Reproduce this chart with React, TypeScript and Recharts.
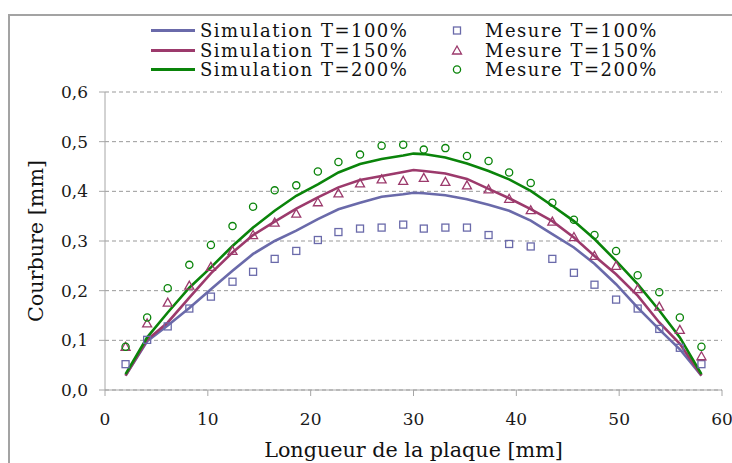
import React from "react";
import {
  CartesianGrid,
  ComposedChart,
  Legend,
  Line,
  Scatter,
  XAxis,
  YAxis,
} from "recharts";

const FONT = "'DejaVu Serif', serif";

const BLUE = "#6a6aaa";
const RED = "#9c3a6c";
const GREEN = "#0a840a";

// positions le long de la plaque [mm]
const mesureX = [
  2.0, 4.1, 6.1, 8.2, 10.3, 12.4, 14.4, 16.5, 18.6, 20.7, 22.7, 24.8, 26.9, 29.0,
  31.0, 33.1, 35.2, 37.3, 39.3, 41.4, 43.5, 45.6, 47.6, 49.7, 51.8, 53.9, 55.9, 58.0,
];
const mesure100 = [
  0.052, 0.101, 0.128, 0.164, 0.188, 0.218, 0.238, 0.264, 0.28, 0.302, 0.318, 0.325, 0.327, 0.333,
  0.325, 0.327, 0.327, 0.312, 0.294, 0.289, 0.264, 0.236, 0.212, 0.182, 0.164, 0.123, 0.085, 0.052,
];
const mesure150 = [
  0.087, 0.134, 0.176, 0.21, 0.248, 0.28, 0.312, 0.337, 0.355, 0.378, 0.396, 0.416, 0.424, 0.421,
  0.427, 0.419, 0.412, 0.404, 0.385, 0.362, 0.339, 0.308, 0.27, 0.25, 0.203, 0.168, 0.121, 0.068,
];
const mesure200 = [
  0.087, 0.146, 0.205, 0.252, 0.292, 0.33, 0.369, 0.402, 0.412, 0.44, 0.459, 0.474, 0.492, 0.494,
  0.484, 0.487, 0.471, 0.461, 0.438, 0.417, 0.377, 0.343, 0.312, 0.28, 0.231, 0.197, 0.146, 0.087,
];

const simX = [
  2.0, 4.1, 6.1, 8.2, 10.3, 12.4, 14.4, 16.5, 18.6, 20.7, 22.7, 24.8, 26.9, 29.0, 30.0,
  31.0, 33.1, 35.2, 37.3, 39.3, 41.4, 43.5, 45.6, 47.6, 49.7, 51.8, 53.9, 55.9, 58.0,
];
const sim100 = [
  0.029, 0.098, 0.13, 0.165, 0.203, 0.24, 0.274, 0.3, 0.321, 0.344, 0.364, 0.377, 0.389, 0.394, 0.397,
  0.396, 0.392, 0.384, 0.373, 0.361, 0.341, 0.314, 0.287, 0.254, 0.213, 0.166, 0.122, 0.082, 0.029,
];
const sim150 = [
  0.029, 0.101, 0.136, 0.186, 0.235, 0.277, 0.312, 0.339, 0.365, 0.388, 0.408, 0.423, 0.431, 0.439, 0.443,
  0.441, 0.436, 0.425, 0.405, 0.386, 0.364, 0.34, 0.307, 0.27, 0.233, 0.19, 0.136, 0.093, 0.029,
];
const sim200 = [
  0.032, 0.106, 0.156, 0.206, 0.247, 0.29, 0.327, 0.361, 0.391, 0.414, 0.438, 0.455, 0.465, 0.472, 0.476,
  0.475, 0.468, 0.456, 0.441, 0.424, 0.401, 0.371, 0.34, 0.304, 0.26, 0.213, 0.16, 0.106, 0.032,
];

const xTicks = [0, 10, 20, 30, 40, 50, 60];
const yTicks = [0, 0.1, 0.2, 0.3, 0.4, 0.5, 0.6];

const toPoints = (xs: number[], ys: number[]) => xs.map((x, i) => ({ x, y: ys[i] }));

const Square = (props: any) => (
  <rect x={props.cx - 3.5} y={props.cy - 3.5} width={7} height={7} fill="none" stroke={BLUE} strokeWidth={1.3} />
);
const Triangle = (props: any) => (
  <path
    d={`M${props.cx},${props.cy - 4.5} L${props.cx + 4.5},${props.cy + 3.5} L${props.cx - 4.5},${props.cy + 3.5} Z`}
    fill="none"
    stroke={RED}
    strokeWidth={1.3}
  />
);
const Circle = (props: any) => (
  <circle cx={props.cx} cy={props.cy} r={3.6} fill="none" stroke={GREEN} strokeWidth={1.3} />
);

const simLegend = [
  { label: "Simulation T=100%", color: BLUE },
  { label: "Simulation T=150%", color: RED },
  { label: "Simulation T=200%", color: GREEN },
];
const mesureLegend = [
  { label: "Mesure T=100%", Shape: Square },
  { label: "Mesure T=150%", Shape: Triangle },
  { label: "Mesure T=200%", Shape: Circle },
];

const LEGEND_FONT = 18;
const LEGEND_SPACING = 1.5;
const TITLE_FONT = 20.7;

function ChartLegend() {
  const rows = [30.5, 50.5, 69.5];
  return (
    <svg width={732} height={90} style={{ display: "block" }}>
      {simLegend.map((s, i) => (
        <g key={s.label}>
          <line x1={151} x2={195} y1={rows[i]} y2={rows[i]} stroke={s.color} strokeWidth={3} />
          <text
            x={200}
            y={rows[i]}
            dy="0.36em"
            fontFamily={FONT}
            fontSize={LEGEND_FONT}
            letterSpacing={LEGEND_SPACING}
            fill="#111"
          >
            {s.label}
          </text>
        </g>
      ))}
      {mesureLegend.map((m, i) => (
        <g key={m.label}>
          <m.Shape cx={457} cy={rows[i]} />
          <text
            x={485}
            y={rows[i]}
            dy="0.36em"
            fontFamily={FONT}
            fontSize={LEGEND_FONT}
            letterSpacing={LEGEND_SPACING}
            fill="#111"
          >
            {m.label}
          </text>
        </g>
      ))}
    </svg>
  );
}

export default function App() {
  const tick = { fontFamily: FONT, fontSize: 17, fill: "#1a1a1a" };
  return (
    <div style={{ position: "absolute", left: 0, top: 0, width: 732, height: 463, background: "#fff", overflow: "hidden" }}>
      <div
        style={{
          position: "absolute",
          left: 8,
          top: 14,
          width: 740,
          height: 470,
          border: "2px solid #a3a3a3",
        }}
      />
      <ComposedChart width={732} height={463} margin={{ top: 92, right: 10, bottom: 0, left: 0 }}>
        <CartesianGrid vertical={false} stroke="#999" strokeDasharray="4 3" />
        <XAxis
          type="number"
          dataKey="x"
          domain={[0, 60]}
          ticks={xTicks}
          height={73}
          tick={tick}
          tickSize={6}
          tickMargin={17}
          stroke="#a6a6a6"
          allowDataOverflow
          label={{
            value: "Longueur de la plaque [mm]",
            position: "insideBottom",
            offset: 6,
            style: { fontFamily: FONT, fontSize: TITLE_FONT, fill: "#111" },
          }}
        />
        <YAxis
          type="number"
          dataKey="y"
          domain={[0, 0.6]}
          ticks={yTicks}
          width={105}
          tick={tick}
          tickSize={6}
          tickMargin={11}
          stroke="#a6a6a6"
          tickFormatter={(v: number) => v.toFixed(1).replace(".", ",")}
          label={{
            value: "Courbure [mm]",
            angle: -90,
            position: "center",
            dx: -17,
            style: { fontFamily: FONT, fontSize: TITLE_FONT, fill: "#111", textAnchor: "middle" },
          }}
        />
        <Legend
          layout="horizontal"
          verticalAlign="middle"
          align="center"
          wrapperStyle={{ left: 0, top: 0, width: 732, height: 90 }}
          content={() => <ChartLegend />}
        />
        <Line data={toPoints(simX, sim100)} dataKey="y" type="linear" stroke={BLUE} strokeWidth={2.6} dot={false} isAnimationActive={false} />
        <Line data={toPoints(simX, sim150)} dataKey="y" type="linear" stroke={RED} strokeWidth={2.6} dot={false} isAnimationActive={false} />
        <Line data={toPoints(simX, sim200)} dataKey="y" type="linear" stroke={GREEN} strokeWidth={2.6} dot={false} isAnimationActive={false} />
        <Scatter data={toPoints(mesureX, mesure100)} dataKey="y" shape={Square} isAnimationActive={false} />
        <Scatter data={toPoints(mesureX, mesure150)} dataKey="y" shape={Triangle} isAnimationActive={false} />
        <Scatter data={toPoints(mesureX, mesure200)} dataKey="y" shape={Circle} isAnimationActive={false} />
      </ComposedChart>
    </div>
  );
}
